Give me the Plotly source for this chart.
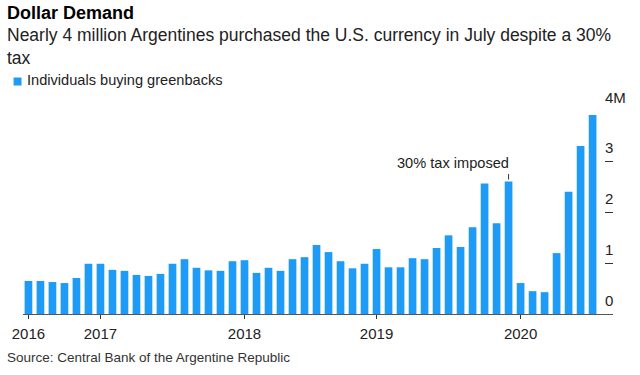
import plotly.graph_objects as go

periods = [
    "2016-07", "2016-08", "2016-09", "2016-10", "2016-11", "2016-12",
    "2017-01", "2017-02", "2017-03", "2017-04", "2017-05", "2017-06",
    "2017-07", "2017-08", "2017-09", "2017-10", "2017-11", "2017-12",
    "2018-01", "2018-02", "2018-03", "2018-04", "2018-05", "2018-06",
    "2018-07", "2018-08", "2018-09", "2018-10", "2018-11",
    "2019-01", "2019-02", "2019-03", "2019-04", "2019-05", "2019-06",
    "2019-07", "2019-08", "2019-09", "2019-10", "2019-11", "2019-12",
    "2020-01", "2020-02", "2020-03", "2020-04", "2020-05", "2020-06", "2020-07",
]
buyers_millions = [
    0.65, 0.65, 0.63, 0.61, 0.71, 0.99,
    0.99, 0.87, 0.85, 0.77, 0.75, 0.79,
    0.99, 1.08, 0.91, 0.86, 0.85, 1.04,
    1.06, 0.81, 0.91, 0.85, 1.08, 1.12,
    1.36, 1.22, 1.04, 0.90, 0.99,
    1.28, 0.92, 0.92, 1.10, 1.08, 1.30,
    1.55, 1.32, 1.71, 2.57, 1.79, 2.61,
    0.61, 0.45, 0.43, 1.20, 2.41, 3.31, 3.92,
]
year_ticks = ["2016-07", "2017-01", "2018-01", "2019-01", "2020-01"]
year_labels = ["2016", "2017", "2018", "2019", "2020"]
y_ticks = [0, 1, 2, 3, 4]
y_labels = ["0", "1", "2", "3", "4M"]
tax_period = "2019-12"
tax_label = "30% tax imposed"

W, H = 640, 375
ML, MR, MT, MB = 18, 27, 111, 61
PW, PH = W - ML - MR, H - MT - MB
FONT = "Liberation Sans, Arial, sans-serif"
BLUE = "#1d9bf6"


def px_x(px):
    return (px - ML) / PW


def px_y(py):
    return (H - MB - py) / PH


fig = go.Figure(go.Bar(
    x=periods, y=buyers_millions, marker_color=BLUE, marker_line_width=0,
    name="Individuals buying greenbacks", showlegend=False,
))

annotations = [
    dict(text="<b>Dollar Demand</b>", x=px_x(0), y=px_y(13), xanchor="left", yanchor="middle",
         font=dict(size=18, color="#000", family=FONT)),
    dict(text="Nearly 4 million Argentines purchased the U.S. currency in July despite a 30%<br>tax",
         x=px_x(0), y=px_y(23), xanchor="left", yanchor="top", align="left",
         font=dict(size=17.5, color="#222", family=FONT)),
    dict(text="Individuals buying greenbacks", x=px_x(20), y=px_y(80), xanchor="left", yanchor="middle",
         font=dict(size=14.6, color="#222", family=FONT)),
    dict(text="Source: Central Bank of the Argentine Republic", x=px_x(0), y=px_y(357),
         xanchor="left", yanchor="middle", font=dict(size=13.5, color="#333", family=FONT)),
]
for v, lab in zip(y_ticks, y_labels):
    annotations.append(dict(text=lab, xref="paper", yref="y", x=px_x(603), y=v, yshift=14,
                            xanchor="left", yanchor="middle", showarrow=False,
                            font=dict(size=15, color="#222", family=FONT)))

tax_val = buyers_millions[periods.index(tax_period)]
annotations.append(dict(text="", xref="x", yref="y", x=tax_period, y=tax_val, showarrow=True,
                        arrowhead=0, arrowwidth=1, arrowcolor="#333", ax=0, ay=-9, standoff=2))
annotations.append(dict(text=tax_label, xref="x", yref="y", x=tax_period, y=tax_val, yshift=19,
                        xshift=2, xanchor="right", yanchor="middle", showarrow=False,
                        font=dict(size=14.6, color="#222", family=FONT)))

for a in annotations:
    a.setdefault("xref", "paper")
    a.setdefault("yref", "paper")
    a.setdefault("showarrow", False)

fig.update_layout(
    width=W, height=H,
    margin=dict(l=ML, r=MR, t=MT, b=MB, pad=0),
    paper_bgcolor="white", plot_bgcolor="white",
    bargap=0.36,
    annotations=annotations,
    shapes=[dict(type="rect", xref="paper", yref="paper",
                 x0=px_x(8.5), x1=px_x(16.5), y0=px_y(85.5), y1=px_y(77.5),
                 fillcolor=BLUE, line_width=0)],
    xaxis=dict(type="category", range=[-0.454, 48.70], tickvals=year_ticks, ticktext=year_labels,
               ticks="outside", ticklen=4, tickcolor="#333", showline=True, linecolor="#555",
               linewidth=1, showgrid=False, zeroline=False, ticklabelstandoff=2,
               tickfont=dict(size=15, color="#222", family=FONT)),
    yaxis=dict(range=[0, 4], side="right", tickvals=y_ticks, ticks="inside", ticklen=8,
               tickcolor="#333", showticklabels=False, showgrid=False, zeroline=False,
               showline=False),
)

fig.write_html("out.html", config={"displayModeBar": False},
               post_script="document.body.style.margin='0px';")
